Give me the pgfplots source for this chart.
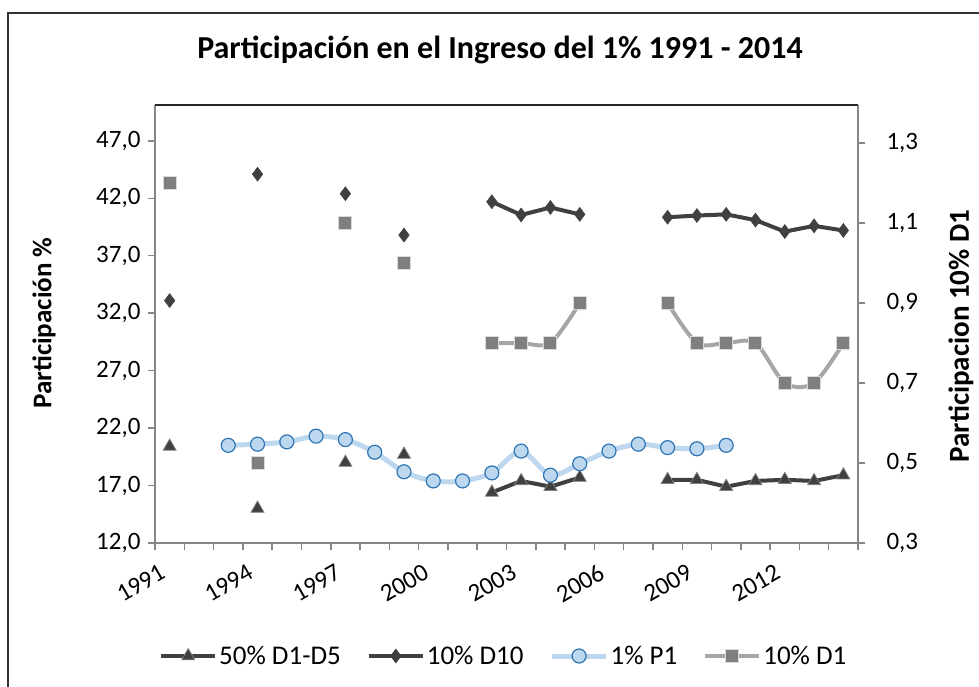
\documentclass[border=0pt]{standalone}
\usepackage{fontspec}
\setmainfont{Carlito}
\usepackage{pgfplots}
\pgfplotsset{compat=1.18}
\definecolor{dk}{HTML}{404040}
\definecolor{axgray}{HTML}{868686}
\definecolor{p1line}{HTML}{BDD7EE}
\definecolor{p1edge}{HTML}{2E75B6}
\definecolor{d1line}{HTML}{A6A6A6}
\definecolor{d1fill}{HTML}{7F7F7F}
\pgfplotsset{
  base/.style={scale only axis, width=703pt, height=438pt, at={(155pt,143pt)}, anchor=south west,
    xmin=1990.5, xmax=2014.5, clip=false,
    /pgf/number format/assume math mode=true,
    tick align=outside, major tick length=7pt, minor tick length=7pt,
    tick style={axgray, line width=1.5pt},
    axis line style={axgray, line width=2pt},
    yticklabel style={font=\fontsize{25}{30}\selectfont, /pgf/number format/fixed, /pgf/number format/fixed zerofill, /pgf/number format/precision=1, /pgf/number format/use comma},
  },
  s1/.style={dk, line width=4pt, mark=triangle*, mark size=7.5pt, mark options={fill=dk, draw=gray, line width=0.75pt, solid}},
  s2/.style={dk, line width=4pt, mark=diamond*, mark size=7pt, mark options={fill=dk, draw=dk, line width=0.5pt, solid}},
  s3/.style={p1line, line width=5pt, mark=*, mark size=7pt, mark options={fill=p1line, draw=p1edge, line width=1.2pt, solid}},
  s4/.style={d1line, line width=4pt, mark=square*, mark size=6.5pt, mark options={fill=d1fill, draw=gray!30, line width=1pt, solid}},
}
\begin{document}
\begin{tikzpicture}[x=1pt,y=1pt]
\useasboundingbox (0,0) rectangle (979,686);
\draw[line width=1.5pt, black!80] (8,-20) -- (8,673) -- (1000,673);
\node[font=\bfseries\fontsize{32}{38}\selectfont, anchor=base] at (500,627) {Participación en el Ingreso del 1\% 1991 - 2014};
\node[font=\bfseries\fontsize{27}{32}\selectfont, rotate=90] at (44,363) {Participación \%};
\node[font=\bfseries\fontsize{29}{34}\selectfont, rotate=90] at (961,350) {Participacion 10\% D1};

\begin{axis}[base,
  ymin=12, ymax=50.12, ytick={12,17,22,27,32,37,42,47},
  yticklabel style={xshift=-4pt},
  axis y line*=left, axis x line*=bottom,
  xtick={1990.5,1991.5,1992.5,1993.5,1994.5,1995.5,1996.5,1997.5,1998.5,1999.5,2000.5,2001.5,2002.5,2003.5,2004.5,2005.5,2006.5,2007.5,2008.5,2009.5,2010.5,2011.5,2012.5,2013.5,2014.5},
  xticklabels={,,,,,,,,,,,,,,,,,,,,,,,,},
  extra x ticks={1991,1994,1997,2000,2003,2006,2009,2012},
  extra x tick labels={1991,1994,1997,2000,2003,2006,2009,2012},
  extra x tick style={major tick length=0pt, xticklabel style={font=\fontsize{25}{30}\selectfont, xshift=-6pt, yshift=-27pt, rotate=30, anchor=east, inner sep=1pt}},
]
% 50% D1-D5
\addplot[s1, only marks] table {
x y
1991 20.4
1994 15.0
1997 19.0
1999 19.7
};
\addplot[s1] table {
x y
2002 16.4
2003 17.4
2004 16.9
2005 17.7
};
\addplot[s1] table {
x y
2008 17.5
2009 17.5
2010 16.9
2011 17.4
2012 17.5
2013 17.4
2014 17.9
};
% 10% D10
\addplot[s2, only marks] table {
x y
1991 33.1
1994 44.1
1997 42.4
1999 38.8
};
\addplot[s2] table {
x y
2002 41.7
2003 40.55
2004 41.2
2005 40.6
};
\addplot[s2] table {
x y
2008 40.35
2009 40.5
2010 40.6
2011 40.1
2012 39.1
2013 39.6
2014 39.2
};
% 1% P1
\addplot[s3, smooth, tension=0.5] table {
x y
1993 20.5
1994 20.6
1995 20.8
1996 21.3
1997 21.0
1998 19.9
1999 18.2
2000 17.4
2001 17.4
2002 18.1
2003 20.0
2004 17.9
2005 18.9
2006 20.0
2007 20.6
2008 20.3
2009 20.2
2010 20.5
};
\end{axis}

\begin{axis}[base,
  ymin=0.3, ymax=1.395, ytick={0.3,0.5,0.7,0.9,1.1,1.3},
  yticklabel style={xshift=18pt},
  axis y line*=right, axis x line=none,
  legend columns=4,
  legend style={at={(0.0057,-0.258)}, anchor=west, draw=none, fill=none, inner sep=0pt,
    font=\fontsize{27}{32}\selectfont,
    /tikz/every even column/.append style={column sep=24pt}},
  legend image code/.code={\draw[#1, mark repeat=2, mark phase=2] plot coordinates {(0pt,0pt) (27pt,0pt) (54pt,0pt)};},
]
\addlegendimage{s1}
\addlegendentry{50\% D1-D5}
\addlegendimage{s2}
\addlegendentry{10\% D10}
\addlegendimage{s3}
\addlegendentry{1\% P1}
\addplot[s4, forget plot, only marks] table {
x y
1991 1.2
1994 0.5
1997 1.1
1999 1.0
};
\addplot[s4, forget plot, smooth, tension=0.5] table {
x y
2002 0.8
2003 0.8
2004 0.8
2005 0.9
};
\addplot[s4, smooth, tension=0.5] table {
x y
2008 0.9
2009 0.8
2010 0.8
2011 0.8
2012 0.7
2013 0.7
2014 0.8
};
\addlegendentry{10\% D1}
\end{axis}
\draw[line width=1.5pt, black!85] (155,581) -- (858,581);
\end{tikzpicture}
\end{document}
